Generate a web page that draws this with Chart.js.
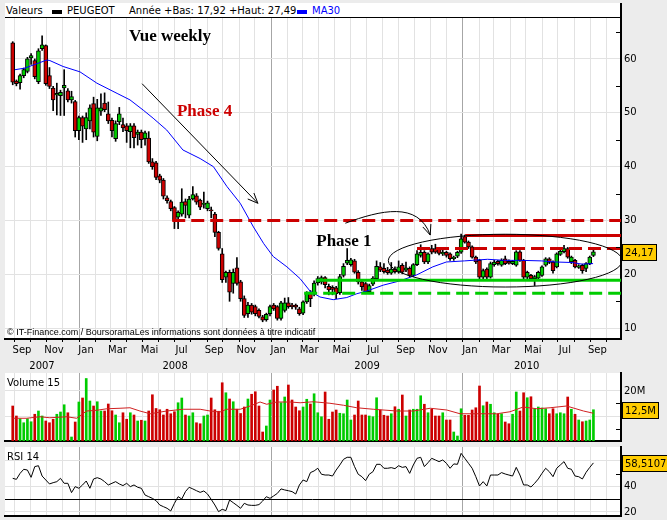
<!DOCTYPE html>
<html>
<head>
<meta charset="utf-8">
<script src="https://cdn.jsdelivr.net/npm/chart.js@4.4.1/dist/chart.umd.min.js"></script>
<style>
html,body{margin:0;padding:0;background:#ececec;}
body{width:667px;height:520px;position:relative;overflow:hidden;font-family:"DejaVu Sans",sans-serif;}
canvas{position:absolute;left:0;}
#head{position:absolute;left:5px;top:3px;width:616px;height:14px;background:#fff;border-bottom:1px solid #000;font-size:10px;line-height:12px;white-space:nowrap;}
#head span{position:absolute;top:2px;}
#head i{position:absolute;top:7px;width:10px;height:4px;}
#axisTop{position:absolute;left:620px;top:3px;width:2px;height:16px;background:#000;}
</style>
</head>
<body>
<div id="head">
  <span style="left:1px">Valeurs</span>
  <i style="left:47px;background:#000"></i>
  <span style="left:62px">PEUGEOT</span>
  <span style="left:124px">Année +Bas: 17,92 +Haut: 27,49</span>
  <i style="left:292px;background:#0000ff"></i>
  <span style="left:307px;color:#0000ff">MA30</span>
</div>
<div id="axisTop"></div>
<canvas id="price" width="667" height="354" style="top:18px"></canvas>
<canvas id="vol" width="667" height="72" style="top:372px"></canvas>
<canvas id="rsi" width="667" height="74" style="top:446px"></canvas>
<script>
// weekly candles, Peugeot, end of Aug 2007 -> Aug 2010
const opens = [
  63, 55.9, 55.6, 56.9, 57.7, 60.2, 59.7, 55.8, 61.9, 62.5,
  56.9, 54.6, 53.3, 53.2, 54.6, 54.1, 52.4, 52.1, 46.7, 49.1,
  47, 48.5, 51.7, 45.6, 50.3, 51.8, 49.8, 48.6, 45.2, 48.3,
  47.8, 47.6, 46.5, 47.6, 46, 46.4, 45.2, 45.3, 40.9, 40.7,
  38.3, 37.5, 34.2, 33.5, 32.4, 30.6, 31.2, 33.5, 31, 34,
  34.6, 33.8, 33, 32.2, 32, 31.2, 27.8, 23.8, 19.5, 20.4,
  18.3, 21.2, 18.6, 15.5, 12.7, 14.3, 14, 13.3, 12.1, 11.6,
  12.7, 14.3, 14, 11.8, 13.3, 14.7, 14.3, 14.3, 13.6, 12.8,
  14.9, 16.7, 16.4, 18.4, 18.6, 19.4, 17.8, 17.6, 17.5, 16.6,
  19.8, 22.1, 21.8, 22.5, 20.4, 18.6, 18.3, 16.8, 18.2, 19.2,
  21.4, 21.1, 20.8, 20.2, 21, 20.4, 21.7, 20.8, 21.1, 19.8,
  21.8, 23.5, 24.1, 22.3, 24.8, 24.8, 24.8, 23.8, 24.1, 23.8,
  22.9, 23.4, 24.1, 27, 26, 25.1, 23.2, 22.6, 19.5, 21,
  19.5, 21.8, 22.4, 21.7, 22.9, 22.4, 22, 21.7, 24.2, 22.6,
  19.5, 19.8, 19.2, 19.3, 19.8, 21.7, 22.9, 22.3, 21.4, 23.7,
  24.2, 24.8, 22.3, 22.6, 21.3, 21.7, 21.1, 22, 23.5
];
const highs = [
  63.2, 56.1, 57.2, 58.3, 60.3, 61, 60, 61.9, 64.3, 62.6,
  58.4, 54.9, 55.5, 54.2, 58, 54.5, 54, 52.3, 49.4, 49.4,
  50, 51.5, 52.9, 52.5, 53.5, 53.7, 52, 49, 48.5, 51,
  49, 48, 48, 48, 46.8, 46.8, 46.6, 46.5, 41.5, 41,
  38.6, 37.8, 34.6, 33.8, 32.6, 31.8, 35.9, 34, 34.5, 36.3,
  35, 34, 35.3, 33.6, 32.5, 31.5, 28, 24.8, 20.6, 20.8,
  21, 23.1, 18.9, 16, 14.8, 14.6, 14.3, 13.6, 12.4, 12.8,
  14.3, 14.6, 14.2, 15, 15.6, 15.7, 14.6, 14.5, 13.9, 15.1,
  16.8, 17, 18.8, 19.6, 19.7, 19.6, 18.2, 17.9, 17.8, 20,
  22, 24.8, 23, 22.8, 20.7, 18.9, 18.5, 18.2, 19.6, 22.5,
  22.2, 22, 21.3, 22.2, 21.4, 22.5, 22, 22.3, 21.4, 22,
  24.4, 25.5, 24.4, 24, 25.4, 25.6, 25, 24.5, 24.3, 24,
  23.4, 24.3, 27.49, 27.3, 26.2, 25.3, 23.4, 22.8, 21, 21.2,
  22.3, 22.6, 22.6, 22.9, 23.4, 22.7, 22.6, 24.4, 24.4, 22.8,
  20.6, 20, 19.8, 20.6, 21.6, 23.1, 23.1, 22.5, 24, 24.5,
  25.4, 25, 23.4, 22.8, 21.8, 21.9, 22.2, 23.4, 24.6
];
const lows = [
  55.2, 55, 54.4, 56.5, 57.4, 59, 56.3, 55.4, 61.6, 55.1,
  54.5, 50.4, 49.6, 49.5, 49.5, 52, 51.8, 45.5, 45, 44.5,
  45, 47, 45.5, 44.8, 49.5, 50.2, 48, 45.5, 44.7, 47.8,
  46.5, 44.5, 43.5, 43.5, 44, 43.5, 44, 40.6, 39.5, 37.6,
  37, 34, 33.2, 31.8, 28.5, 28.5, 30.8, 30.5, 30.5, 33.8,
  33, 32, 32.3, 31.8, 30.5, 27, 24.5, 18.5, 18.5, 15,
  16.5, 18, 15, 12, 12, 12.6, 12.3, 11.9, 11.2, 11.3,
  12.3, 13.3, 11.5, 11.5, 13, 13.7, 13.6, 13.5, 12.4, 12.5,
  14.6, 14, 16, 18, 18.2, 17.5, 16.2, 16.2, 15.5, 16.3,
  19.5, 21.8, 21.5, 20.2, 18.2, 17, 16.4, 16.4, 17.9, 19,
  20.5, 20.2, 20, 20, 20.2, 20.2, 20.1, 20.5, 19.5, 19.6,
  21.6, 23.2, 22, 22, 23.8, 23.9, 23.6, 23.5, 23.2, 22.6,
  22.6, 23.1, 23.9, 25.8, 24.8, 23, 22, 19.2, 19.2, 19.2,
  19.3, 21.5, 21.7, 21.5, 21.8, 21.9, 21.8, 21.5, 22.4, 19.2,
  19, 18.9, 17.92, 19, 19.6, 21.5, 22, 20.2, 21.2, 23.5,
  24, 23, 22, 21.2, 21.1, 20.2, 20.5, 21.8, 23.3
];
const closes = [
  55.7, 55.4, 56.9, 58, 60, 60.6, 56.7, 61.5, 62.6, 55.4,
  54.9, 52.4, 53.6, 53.8, 55.1, 52.4, 53, 46.7, 49.1, 47.5,
  49.1, 50.9, 46.4, 50.9, 50.9, 50.6, 48.5, 46.7, 48, 49.8,
  47.2, 46.7, 47.6, 45.4, 46.4, 45, 46.3, 40.9, 40, 38,
  37.5, 34.5, 33.7, 32.2, 30, 31.5, 33.4, 32.8, 34, 34.8,
  33.4, 32.5, 33.2, 33.3, 31.8, 27.8, 24.8, 19, 20.4, 16.7,
  20.4, 18.3, 15.5, 12.4, 14.3, 13, 12.7, 12.2, 11.5, 12.6,
  14, 13.6, 11.8, 14.7, 14.7, 14, 14, 13.9, 12.7, 14.9,
  16.5, 15.5, 18.4, 19.2, 19.4, 18.1, 17.1, 17.2, 16.4, 19.6,
  21.5, 22.6, 22.7, 20.4, 18.6, 17.7, 16.8, 17.9, 19.3, 21.5,
  20.8, 20.5, 20.3, 21, 20.5, 21.4, 20.4, 21.2, 19.8, 21.8,
  23.8, 24.1, 22.3, 23.8, 24.1, 24.1, 23.9, 24.1, 23.5, 22.9,
  23.2, 24.1, 26.6, 26, 25.1, 23.2, 22.3, 19.5, 20.7, 19.5,
  22, 22.3, 22, 22.6, 22, 22.1, 22.4, 24.2, 22.6, 19.5,
  20.4, 19.2, 19.6, 20.4, 21.4, 22.9, 22.2, 20.7, 23.8, 24.3,
  24.8, 23.2, 23.2, 21.4, 21.6, 20.7, 22, 23.2, 24.17
];
// volume in millions of shares
const volumes = [
  14, 10, 8.9, 7.3, 8.9, 7.7, 10.7, 12, 10, 8,
  7.3, 8.7, 10.7, 11.6, 14.5, 11.3, 1.6, 7.6, 15.6, 17.2,
  25, 16, 14, 15.7, 12, 12, 14.8, 12.1, 10.4, 7.3,
  11.3, 8.7, 11.3, 10.4, 8, 8.3, 8, 12, 18.5, 13,
  12.5, 10.4, 12.7, 10.9, 11.7, 15.3, 17.2, 10.4, 10, 11.3,
  7.3, 6.9, 10, 10.4, 17.2, 12.5, 11.9, 23.3, 19.3, 16.8,
  15.7, 12.7, 11, 13.6, 16.8, 18.7, 19.7, 14, 3.6, 6,
  16.4, 20.4, 21.9, 15.3, 17.6, 22.4, 16.4, 13.6, 12.1, 13.6,
  16.7, 14.8, 18.9, 11.3, 9.7, 19.6, 8.7, 11.6, 12.4, 11.1,
  10.9, 16.4, 8.4, 10.4, 16, 10.4, 10.4, 10, 9.7, 17.3,
  12.4, 10.3, 10, 10.9, 13.7, 12.7, 18.4, 10, 12.4, 12.7,
  12.7, 18.1, 14.7, 11.3, 12.7, 10, 10, 11.3, 8.4, 8.4,
  3.6, 2, 12.9, 10.3, 10.3, 12.4, 13.3, 22, 14.1, 15.6,
  14.7, 11.3, 10.7, 10.9, 7.6, 6.9, 10.7, 19.6, 12, 19.3,
  17.3, 17.7, 12.9, 13.6, 13.2, 12.9, 10.9, 12.9, 10.9, 11.3,
  10.9, 17.6, 12.7, 10.7, 8.4, 7.7, 8, 8.4, 12.5
];
const rsi14 = [
  46.4, 45.6, 50.3, 53.5, 52.9, 47.2, 55.6, 56.3, 48.2, 45.1,
  42, 43, 43.8, 46.4, 42.5, 42.5, 35.2, 39.9, 38.6, 41.2,
  44.3, 38.6, 45.9, 46.9, 45.9, 43.8, 41.2, 42.5, 43.8, 42,
  40.7, 42.5, 39.9, 41.2, 39.4, 38.6, 33.3, 32, 30.7, 28.9,
  25.5, 24.2, 22.9, 20.8, 26.8, 32, 30.2, 36, 39.4, 38.1,
  36.7, 35.4, 36.5, 34.1, 29.9, 25.5, 20.3, 22.1, 21.1, 29.4,
  27.3, 25.2, 22.9, 26.8, 25.5, 25.2, 25.2, 25.8, 28.6, 32,
  30.7, 32.6, 34.6, 38.1, 37.3, 36.7, 36, 34.1, 41.2, 45.1,
  43.8, 50.9, 52.2, 54.3, 49.6, 49, 49, 48.2, 52.9, 56.9,
  61.3, 62.9, 62.9, 55.6, 49.6, 47.7, 44.6, 49.6, 51.6, 57.4,
  57.4, 54.3, 54.3, 54.8, 54, 56.3, 55, 55.6, 50.3, 56.9,
  62.1, 62.9, 55.6, 58.7, 62.1, 60.8, 59.5, 60.8, 58.2, 54.3,
  57.7, 57.4, 66, 62.1, 58.2, 54.3, 47.7, 40.4, 43.8, 40.4,
  49, 49, 49, 50.9, 49.8, 49, 48.2, 55, 49, 41.2,
  41.2, 39.6, 42.5, 45.9, 50.3, 54.3, 51.6, 47.7, 54.3, 56.9,
  59.5, 54.3, 53.5, 48.2, 47.7, 45.9, 51.1, 55, 58.5107
];
// MA30 read at its turning points (week index, price)
const ma30Weeks  = [1.6, 4.3, 10.3, 11.1, 14.7, 19.3, 23.9, 29.4, 32.9, 36.5, 39.2, 42.9, 47.3, 52, 55.6, 59.3, 62.9, 66.5, 69.3, 71.9, 75.6, 79.2, 81.9, 84.6, 88.2, 91.9, 94.6, 97.3, 101.8, 106.4, 110.9, 115.3, 119, 123.9, 130.2, 134.8, 139.4, 144.9, 148.6, 153.2, 155.9, 158.9];
const ma30Values = [58, 58.3, 59.8, 59.7, 58.6, 57.6, 55.5, 53.6, 52.4, 50.5, 49, 46.8, 43.1, 41.5, 40, 36.3, 33.2, 28.8, 25.7, 23.3, 21.4, 19.2, 16.9, 15.8, 15.3, 15.7, 16.4, 16.9, 18, 18.8, 19.9, 21.4, 22.3, 22.5, 22.8, 22.6, 22.6, 22.5, 22.3, 22.2, 21.9, 22];
// volume average (red line in the volume panel)
const volMaWeeks  = [1, 4.8, 8.4, 11.1, 15.7, 18.4, 21.1, 23.9, 26.6, 30.2, 32.9, 35.6, 38.4, 42.9, 47.4, 52, 54.7, 57.4, 59.2, 62.9, 65.6, 68.3, 70.1, 72.8, 76.5, 79.2, 82.8, 87.3, 91, 94.6, 99.1, 105.5, 110, 114.6, 119.1, 122.7, 128.2, 132.7, 136.3, 139.9, 143.6, 147.2, 151.7, 156.3, 159];
const volMaValues = [9.1, 9.1, 9.7, 9.3, 9.7, 9.1, 12, 12.3, 12.9, 13.1, 13.3, 12, 10.9, 12, 12.7, 12.7, 12, 11.6, 12.7, 12.7, 14, 15.6, 14.7, 15.6, 15.6, 15.3, 15.7, 15.1, 14.3, 13.3, 12.7, 12, 12, 13.1, 12.4, 10.9, 10.9, 10.9, 11.7, 13.6, 12.9, 13.3, 14, 12, 11.1];
// support / resistance levels drawn on the chart: [from week, price]
const redDashLevels   = [[44.4, 30], [111, 24.8]];
const redSolidLevels  = [[124.1, 27.2]];
const greenSolidLevels = [[83.6, 18.9]];
const greenDashLevels  = [[80.3, 16.5]];

const RED = '#cc0000', GREEN = '#00cc00';
const X_MIN = -1.1, X_MAX = 166.5;
const JAN08 = 19.04;   // week index of 1 Jan 2008
const MONTH_NAMES = ['Jan','Fév','Mar','Avr','Mai','Jui','Jul','Aoû','Sep','Oct','Nov','Déc'];

const weeks = closes.map((_, k) => k + 1);
const isUp = k => closes[k] >= opens[k];

function weekOf(y, m){
  return JAN08 + (Date.UTC(y, m, 1) - Date.UTC(2008, 0, 1)) / 864e5 / 7;
}
const monthTicks = [];
for (let y = 2007, m = 8; y < 2011; ){
  const pos = weekOf(y, m);
  if (pos > X_MAX) break;
  monthTicks.push({ pos, label: m % 2 === 0 ? MONTH_NAMES[m] : '', jan: m === 0, y, m });
  m++; if (m > 11){ m = 0; y++; }
}

Chart.defaults.font.family = '"DejaVu Sans", sans-serif';
Chart.defaults.font.size = 10;
Chart.defaults.color = '#000';

function xScale(labels, h){
  return {
    type: 'linear', min: X_MIN, max: X_MAX, offset: false,
    afterBuildTicks: s => { s.ticks = monthTicks.map(t => ({ value: t.pos })); },
    afterFit: s => { s.height = h; s.paddingLeft = 0; s.paddingRight = 0; },
    grid: {
      offset: false,
      color: c => (monthTicks[c.index] && monthTicks[c.index].jan) ? '#a6a6a6' : '#e2e2e2',
      drawTicks: labels, tickLength: 3, tickColor: '#000'
    },
    border: { display: true, color: '#000', width: 2 },
    ticks: {
      display: labels, autoSkip: false, maxRotation: 0, padding: 2, labelOffset: 7,
      callback: (v, i) => monthTicks[i] ? monthTicks[i].label : ''
    }
  };
}
function yScale(min, max, tickVals, fmt, gridColor){
  return {
    position: 'right', min, max,
    afterBuildTicks: s => { s.ticks = tickVals.map(v => ({ value: v })); },
    afterFit: s => { s.width = 46; s.paddingTop = 0; s.paddingBottom = 0; },
    grid: { drawTicks: false, color: gridColor || '#e2e2e2' },
    border: { display: true, color: '#000', width: 2 },
    ticks: { padding: 3, callback: fmt }
  };
}

const whiteArea = {
  id: 'whiteArea',
  beforeDraw(chart){
    const a = chart.chartArea, ctx = chart.ctx;
    ctx.save(); ctx.fillStyle = '#fff';
    ctx.fillRect(a.left, a.top, a.right - a.left, a.bottom - a.top);
    ctx.restore();
  }
};
const axisDashes = vals => ({
  id: 'axisDashes',
  afterDraw(chart){
    const s = chart.scales.y, ctx = chart.ctx;
    ctx.save(); ctx.strokeStyle = '#000'; ctx.lineWidth = 1;
    vals.forEach(v => {
      const y = Math.round(s.getPixelForValue(v)) + 0.5;
      ctx.beginPath(); ctx.moveTo(s.left - 5, y); ctx.lineTo(s.left, y); ctx.stroke();
    });
    ctx.restore();
  }
});
const valueBox = (text, value) => ({
  id: 'valueBox',
  afterDraw(chart){
    const ctx = chart.ctx, y = Math.round(chart.scales.y.getPixelForValue(value));
    ctx.save();
    ctx.font = '10px "DejaVu Sans"';
    const w = Math.ceil(ctx.measureText(text).width) + 6;
    const x0 = chart.chartArea.right + 1;
    ctx.fillStyle = '#ffcc00'; ctx.fillRect(x0, y - 8, w, 17);
    ctx.strokeStyle = '#000'; ctx.lineWidth = 1; ctx.strokeRect(x0 + 0.5, y - 7.5, w - 1, 16);
    ctx.fillStyle = '#000'; ctx.textBaseline = 'middle'; ctx.fillText(text, x0 + 3, y + 1);
    ctx.restore();
  }
});
const panelTitle = text => ({
  id: 'panelTitle',
  afterDraw(chart){
    const ctx = chart.ctx, a = chart.chartArea;
    ctx.save(); ctx.font = '10px "DejaVu Sans"'; ctx.fillStyle = '#000';
    ctx.textBaseline = 'alphabetic'; ctx.fillText(text, a.left + 2, a.top + 13);
    ctx.restore();
  }
});

// hand drawn notes on the price chart, placed in (week, price) units
const notes = {
  id: 'notes',
  afterDatasetsDraw(chart){
    const ctx = chart.ctx, xs = chart.scales.x, ys = chart.scales.y, a = chart.chartArea;
    const P = (w, v) => [xs.getPixelForValue(w), ys.getPixelForValue(v)];
    ctx.save();
    ctx.beginPath(); ctx.rect(a.left, a.top, a.right - a.left, a.bottom - a.top); ctx.clip();

    ctx.textAlign = 'center'; ctx.textBaseline = 'alphabetic';
    ctx.font = 'bold 17px "Liberation Serif", serif';
    ctx.fillStyle = '#000'; ctx.fillText('Vue weekly', ...P(43.8, 63.3));
    ctx.fillStyle = RED; ctx.fillText('Phase 4', ...P(53.2, 49.4));
    ctx.fillStyle = '#000'; ctx.fillText('Phase 1', ...P(91.1, 25.2));

    const head = (x, y, ang) => {
      ctx.beginPath();
      ctx.moveTo(x - 11 * Math.cos(ang - 0.4), y - 11 * Math.sin(ang - 0.4));
      ctx.lineTo(x, y);
      ctx.lineTo(x - 11 * Math.cos(ang + 0.4), y - 11 * Math.sin(ang + 0.4));
      ctx.stroke();
    };
    ctx.strokeStyle = '#000'; ctx.lineWidth = 1;
    // straight arrow along the fall
    const [ax0, ay0] = P(36.2, 55.4), [ax1, ay1] = P(67.7, 33.2);
    ctx.beginPath(); ctx.moveTo(ax0, ay0); ctx.lineTo(ax1, ay1); ctx.stroke();
    head(ax1, ay1, Math.atan2(ay1 - ay0, ax1 - ax0));
    // curved arrow from Phase 1 to the range
    const c0 = P(91.5, 29.5), c1 = P(101, 31.9), c2 = P(111.3, 33.6), c3 = P(114.6, 27.3);
    ctx.beginPath(); ctx.moveTo(...c0); ctx.bezierCurveTo(...c1, ...c2, ...c3); ctx.stroke();
    head(c3[0], c3[1], Math.atan2(c3[1] - c2[1], c3[0] - c2[0]));
    // ellipse round the trading range
    const [ex, ey] = P(135, 22.55);
    const rx = xs.getPixelForValue(135 + 31.8) - ex, ry = ys.getPixelForValue(22.55 - 4.9) - ey;
    ctx.beginPath(); ctx.ellipse(ex, ey, rx, ry, 0, 0, Math.PI * 2); ctx.stroke();

    ctx.textAlign = 'left';
    ctx.font = '9px "Liberation Sans", sans-serif';
    ctx.fillStyle = '#000';
    ctx.fillText('© IT-Finance.com / BoursoramaLes informations sont données à titre indicatif', a.left + 2, a.bottom - 4);
    ctx.restore();
  }
};
const yearLabels = {
  id: 'yearLabels',
  afterDraw(chart){
    const xs = chart.scales.x, ctx = chart.ctx;
    const last = monthTicks[monthTicks.length - 2].pos;
    ctx.save(); ctx.font = '10px "DejaVu Sans"'; ctx.fillStyle = '#000';
    ctx.textAlign = 'center'; ctx.textBaseline = 'middle';
    [2007, 2008, 2009, 2010].forEach(y => {
      const s = Math.max(X_MIN, weekOf(y, 0)), e = Math.min(last, weekOf(y + 1, 0));
      ctx.fillText(String(y), (xs.getPixelForValue(s) + xs.getPixelForValue(e)) / 2, xs.top + 27);
    });
    ctx.restore();
  }
};

const levelSet = (list, color, dash) => list.map(([w, v]) => ({
  type: 'line', data: [{ x: w, y: v }, { x: X_MAX, y: v }],
  borderColor: color, borderWidth: 3, borderDash: dash, pointRadius: 0, order: 0
}));

const common = {
  responsive: false, animation: false, events: [],
  plugins: { legend: { display: false }, tooltip: { enabled: false } }
};

new Chart(document.getElementById('price'), {
  type: 'bar',
  data: {
    datasets: [
      ...levelSet(redDashLevels, RED, [13, 6]),
      ...levelSet(redSolidLevels, RED, []),
      ...levelSet(greenSolidLevels, GREEN, []),
      ...levelSet(greenDashLevels, GREEN, [13, 6]),
      { type: 'line', data: ma30Weeks.map((w, k) => ({ x: w, y: ma30Values[k] })),
        borderColor: '#0000ff', borderWidth: 1, pointRadius: 0, order: 1 },
      { type: 'bar', data: weeks.map((w, k) => ({ x: w, y: [opens[k], closes[k]] })),
        backgroundColor: c => isUp(c.dataIndex) ? GREEN : RED,
        borderColor: '#000', borderWidth: 1, borderSkipped: false,
        barThickness: 4, grouped: false, order: 2 },
      { type: 'bar', data: weeks.map((w, k) => ({ x: w, y: [lows[k], highs[k]] })),
        backgroundColor: '#000', barThickness: 1, grouped: false, order: 3 }
    ]
  },
  options: {
    ...common,
    layout: { padding: { left: 5, right: 0, top: 0, bottom: 0 } },
    scales: {
      x: xScale(true, 33),
      y: yScale(8, 67.6, [10, 20, 30, 40, 50, 60], v => String(v))
    }
  },
  plugins: [whiteArea, notes, yearLabels, axisDashes([15, 25, 35, 45, 55, 65]),
            valueBox(closes[closes.length - 1].toFixed(2).replace('.', ','), closes[closes.length - 1])]
});

new Chart(document.getElementById('vol'), {
  type: 'bar',
  data: {
    datasets: [
      { type: 'line', data: volMaWeeks.map((w, k) => ({ x: w, y: volMaValues[k] })),
        borderColor: '#d02020', borderWidth: 1, pointRadius: 0, order: 0 },
      { type: 'bar', data: weeks.map((w, k) => ({ x: w, y: volumes[k] })),
        backgroundColor: c => isUp(c.dataIndex) ? GREEN : RED,
        barThickness: 2, grouped: false, order: 1 }
    ]
  },
  options: {
    ...common,
    layout: { padding: { left: 5, right: 0, top: 1, bottom: 0 } },
    scales: {
      x: xScale(false, 3),
      y: yScale(0, 27.2, [10, 20], v => v + 'M')
    }
  },
  plugins: [whiteArea, panelTitle('Volume 15'), axisDashes([5, 15]),
            valueBox(String(volumes[volumes.length - 1]).replace('.', ',') + 'M', volumes[volumes.length - 1])]
});

new Chart(document.getElementById('rsi'), {
  type: 'line',
  data: {
    datasets: [
      { data: weeks.map((w, k) => ({ x: w, y: rsi14[k] })),
        borderColor: '#000', borderWidth: 1, pointRadius: 0 }
    ]
  },
  options: {
    ...common,
    layout: { padding: { left: 5, right: 0, top: 1, bottom: 0 } },
    scales: {
      x: xScale(false, 4),
      y: yScale(16.86, 70.98, [20, 30, 40, 60], v => v === 30 ? '' : String(v),
                c => c.tick && c.tick.value === 30 ? '#000' : '#e2e2e2')
    }
  },
  plugins: [whiteArea, panelTitle('RSI 14'), axisDashes([50]),
            valueBox(String(rsi14[rsi14.length - 1]).replace('.', ','), rsi14[rsi14.length - 1])]
});
</script>
</body>
</html>
